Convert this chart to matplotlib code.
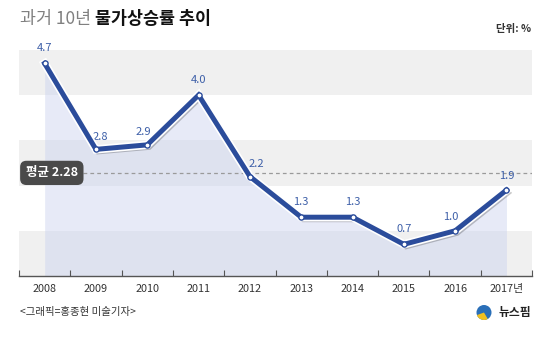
import matplotlib
matplotlib.use("Agg")
import matplotlib.pyplot as plt
import matplotlib.patheffects as pe
from matplotlib.patches import Circle, Wedge
import numpy as np

plt.rcParams['font.family'] = ['Noto Sans CJK KR', 'DejaVu Sans']

# %%
years = ["2008", "2009", "2010", "2011", "2012", "2013", "2014", "2015", "2016", "2017년"]
rates = [4.7, 2.8, 2.9, 4.0, 2.2, 1.3, 1.3, 0.7, 1.0, 1.9]
mean_rate = 2.28
bands = [(0, 1), (2, 3), (4, 5)]
# label offsets (points) for each value label
label_dx = [0, 3, -3, 0, 5, 0, 0, 0, -3, 0]
label_dy = [11, 9, 9, 11, 9, 11, 11, 11, 10, 10]

blue = "#2b4c9b"
label_blue = "#3d5fa8"

# %%
fig = plt.figure(figsize=(5.5, 3.37), dpi=100)
ax = fig.add_axes([0.0345, 0.181, 0.933, 0.671])
x = np.arange(len(years))
ax.set_xlim(-0.5, len(years) - 0.5)
ax.set_ylim(0, 5)

for lo, hi in bands:
    ax.axhspan(lo, hi, color="#f0f0f0", zorder=0, lw=0)

ax.fill_between(x, rates, 0, color="#cad2ef", alpha=0.45, lw=0, zorder=1)

ax.axhline(mean_rate, xmin=0.125, color="#9a9a9a", lw=0.9, ls=(0, (3, 2.5)), zorder=2)

ax.plot(x, rates, color=blue, lw=3.6, zorder=4, solid_joinstyle="miter",
        path_effects=[pe.SimpleLineShadow(offset=(1.5, -1.8), alpha=0.22, shadow_color="black"),
                      pe.Stroke(linewidth=6.0, foreground="white"), pe.Normal()])
ax.scatter(x, rates, s=14, facecolor="white", edgecolor=blue, lw=1.0, zorder=5)

for xi, yi, dx, dy in zip(x, rates, label_dx, label_dy):
    ax.annotate(f"{yi:.1f}", (xi, yi), xytext=(dx, dy), textcoords="offset points",
                ha="center", va="center", fontsize=8, color=label_blue)

# mean label box
ax.text(0.14, mean_rate, f"평균 {mean_rate:.2f}", ha="center", va="center",
        fontsize=9, color="white", fontweight="bold", zorder=6,
        bbox=dict(boxstyle="round,pad=0.45,rounding_size=0.5", fc="#4a4a4a", ec="none"))

for s in ["top", "right", "left"]:
    ax.spines[s].set_visible(False)
ax.spines["bottom"].set_color("#555555")
ax.spines["bottom"].set_linewidth(1.0)
ax.set_yticks([])
ax.set_xticks(np.arange(-0.5, len(years)), minor=False)
ax.set_xticks(x, minor=True)
ax.tick_params(axis="x", which="major", direction="in", length=4, color="#555555", labelbottom=False)
ax.tick_params(axis="x", which="minor", length=0, pad=6, labelsize=7.8, labelcolor="#333333")
ax.set_xticklabels(years, minor=True)

# titles and notes
fig.text(0.036, 0.945, "과거 10년", fontsize=12.5, color="#808080", fontweight="light", va="center")
fig.text(0.172, 0.945, "물가상승률 추이", fontsize=12.5, color="#111111", fontweight="bold", va="center")
fig.text(0.966, 0.915, "단위: %", fontsize=7.5, color="#333333", fontweight="bold", ha="right", va="center")
fig.text(0.036, 0.075, "<그래픽=홍종현 미술기자>", fontsize=7.5, color="#333333", va="center")
fig.text(0.966, 0.072, "뉴스핌", fontsize=8.5, color="#222222", fontweight="bold", ha="right", va="center")
fig.add_artist(Circle((4.84, 0.245), 0.075, transform=fig.dpi_scale_trans, fc="#2a6fb8", ec="none"))
fig.add_artist(Wedge((4.84, 0.245), 0.075, 200, 300, transform=fig.dpi_scale_trans, fc="#f0c020", ec="none"))

fig.savefig("out.png", dpi=100)
